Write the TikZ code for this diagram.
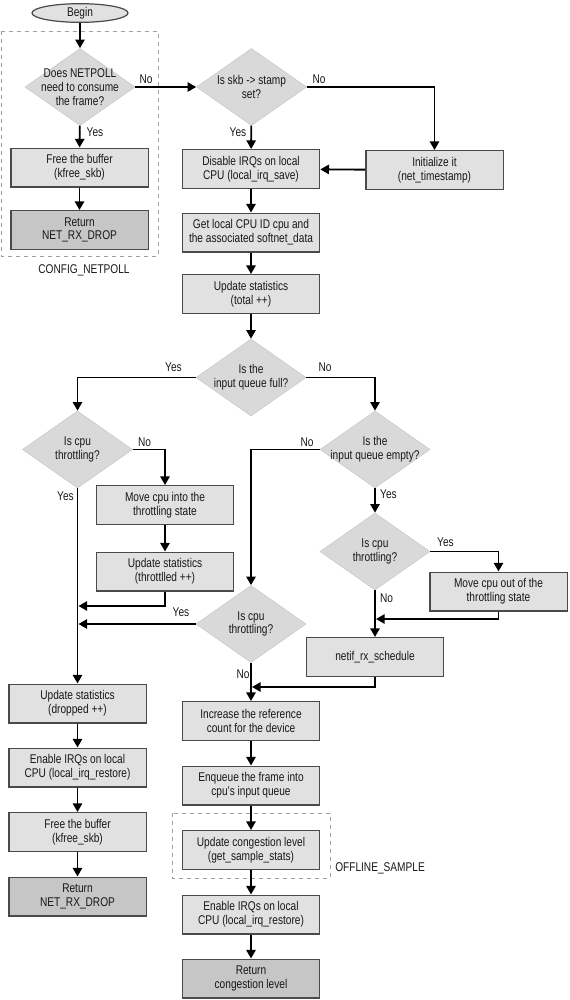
\documentclass[tikz,border=0pt]{standalone}
\usepackage{fontspec}
\setmainfont{Liberation Sans}[FakeStretch=0.8]
\usetikzlibrary{arrows.meta,shapes.geometric}
\definecolor{boxfill}{HTML}{E1E1E1}
\definecolor{retfill}{HTML}{C6C6C6}
\definecolor{diafill}{HTML}{D9D9D9}
\definecolor{diadraw}{HTML}{CCCCCC}
\definecolor{boxdraw}{HTML}{4A4A4A}
\definecolor{txt}{HTML}{1A1718}
\begin{document}
\begin{tikzpicture}[x=0.75pt,y=-0.75pt,
  every node/.style={font=\fontsize{9.5}{10.3}\selectfont, text=txt},
  box/.style={rectangle, draw=boxdraw, line width=1pt, fill=boxfill, minimum width=103pt, minimum height=29pt, align=center, inner sep=0pt},
  retbox/.style={box, fill=retfill},
  term/.style={ellipse, draw=boxdraw, line width=0.9pt, fill=boxfill, minimum width=72pt, minimum height=14pt, inner sep=0pt},
  dia/.style={diamond, fill=diafill, draw=diadraw, line width=0.5pt, minimum width=82.5pt, minimum height=57.75pt, inner sep=0pt},
  dtext/.style={label={[align=center]center:#1}},
  arr/.style={-{Triangle[length=6.5pt,width=7pt]}, line width=1.4pt, draw=black},
  lbl/.style={inner sep=0pt},
  grp/.style={draw=gray!75, dashed, line width=0.6pt}]
\useasboundingbox (0,0) rectangle (569,1000);

% groups
\draw[grp] (1,31) rectangle (158,256);
\draw[grp] (172,813) rectangle (330,878);
\node[lbl] (cfg) at (84,270) {CONFIG\_NETPOLL};
\node[lbl, anchor=west] (off) at (335,868.5) {OFFLINE\_SAMPLE};

% nodes
\node[term] (begin) at (80,13) {Begin};
\node[dia, dtext={Does NETPOLL\\need to consume\\the frame?}] (d1) at (80,87) {};
\node[box] (free1) at (79.5,167.5) {Free the buffer\\(kfree\_skb)};
\node[retbox] (ret1) at (79.5,230) {Return\\NET\_RX\_DROP};
\node[dia, dtext={Is skb -> stamp\\set?}] (d2) at (251.5,87) {};
\node[box] (init) at (434.5,170) {Initialize it\\(net\_timestamp)};
\node[box] (dis) at (251,169) {Disable IRQs on local\\CPU (local\_irq\_save)};
\node[box] (get) at (251,232.5) {Get local CPU ID cpu and\\the associated softnet\_data};
\node[box] (upd) at (251,294) {Update statistics\\(total ++)};
\node[dia, dtext={Is the\\input queue full?}] (d3) at (251,377.5) {};
\node[dia, dtext={Is cpu\\throttling?}] (d4) at (77.5,449.5) {};
\node[dia, dtext={Is the\\input queue empty?}] (d5) at (375,449.5) {};
\node[box] (mv1) at (165,505) {Move cpu into the\\throttling state};
\node[box] (thr) at (165,571.5) {Update statistics\\(throttlled ++)};
\node[dia, dtext={Is cpu\\throttling?}] (d6) at (251,624) {};
\node[dia, dtext={Is cpu\\throttling?}] (d7) at (375,551.5) {};
\node[box] (mv2) at (498.5,591.5) {Move cpu out of the\\throttling state};
\node[box] (netif) at (375,657) {netif\_rx\_schedule};
\node[box] (drop) at (77.5,703.5) {Update statistics\\(dropped ++)};
\node[box] (en1) at (77.5,767.5) {Enable IRQs on local\\CPU (local\_irq\_restore)};
\node[box] (free2) at (77.5,832) {Free the buffer\\(kfree\_skb)};
\node[retbox] (ret2) at (77.5,896.5) {Return\\NET\_RX\_DROP};
\node[box] (inc) at (251,721) {Increase the reference\\count for the device};
\node[box] (enq) at (251,785.5) {Enqueue the frame into\\cpu’s input queue};
\node[box] (cong) at (251,850) {Update congestion level\\(get\_sample\_stats)};
\node[box] (en2) at (251,914.5) {Enable IRQs on local\\CPU (local\_irq\_restore)};
\node[retbox] (ret3) at (251,978.5) {Return\\congestion level};

% junction coordinates
\coordinate (j1) at (78.5,606);
\coordinate (j2) at (78.5,624);
\coordinate (j3) at (376,619);
\coordinate (j4) at (252,687);

% connectors
\draw[arr] (begin) -- (d1);
\draw[arr] (d1) -- (d2);
\draw[arr] (d1) -- (free1);
\draw[arr] (free1) -- (ret1);
\draw[arr] (d2.east) -| (init.north);
\draw[arr] (init) -- (dis);
\draw[arr] (d2) -- (dis);
\draw[arr] (dis) -- (get);
\draw[arr] (get) -- (upd);
\draw[arr] (upd) -- (d3);
\draw[arr] (d3.west) -| (d4.north);
\draw[arr] (d3.east) -| (d5.north);
\draw[arr] (d4.east) -| (mv1.north);
\draw[arr] (d4.south) -- (drop.north);
\draw[arr] (mv1) -- (thr);
\draw[arr] (thr.south) |- (j1);
\draw[arr] (d6.west) -- (j2);
\draw[arr] (d5.west) -| (d6.north);
\draw[arr] (d5) -- (d7);
\draw[arr] (d7.east) -| (mv2.north);
\draw[arr] (mv2.south) |- (j3);
\draw[arr] (d7) -- (netif);
\draw[arr] (netif.south) |- (j4);
\draw[arr] (d6) -- (inc);
\draw[arr] (inc) -- (enq);
\draw[arr] (enq) -- (cong);
\draw[arr] (cong) -- (en2);
\draw[arr] (en2) -- (ret3);
\draw[arr] (drop) -- (en1);
\draw[arr] (en1) -- (free2);
\draw[arr] (free2) -- (ret2);

% edge labels
\node[lbl] (l1) at (146,79) {No};
\node[lbl] (l2) at (95,132) {Yes};
\node[lbl] (l3) at (238,132) {Yes};
\node[lbl] (l4) at (319,79) {No};
\node[lbl] (l5) at (173.5,367) {Yes};
\node[lbl] (l6) at (325,367) {No};
\node[lbl] (l7) at (144.5,442) {No};
\node[lbl] (l8) at (307,442) {No};
\node[lbl] (l9) at (65.5,496) {Yes};
\node[lbl] (l10) at (388.5,494.5) {Yes};
\node[lbl] (l11) at (445.5,542) {Yes};
\node[lbl] (l12) at (386.5,598.5) {No};
\node[lbl] (l13) at (181,612.5) {Yes};
\node[lbl] (l14) at (243,674) {No};
\end{tikzpicture}
\end{document}
